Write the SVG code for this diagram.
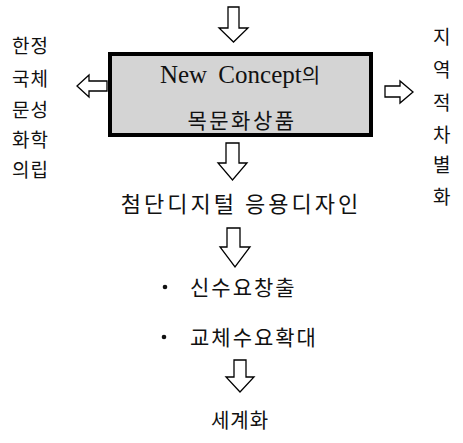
<svg xmlns="http://www.w3.org/2000/svg" width="463" height="443" viewBox="0 0 463 443">
<style>
.ar{fill:#fff;stroke:#000;stroke-width:1.3;stroke-linejoin:miter}
.k{font-family:"Noto Sans CJK KR","Noto Sans",sans-serif;fill:#111}
.t{font-size:21px}
.s{font-size:19px}
</style>
<rect width="463" height="443" fill="#fff"/>
<g id="connectors">
<path class="ar" d="M228,7 H239 V28 H248 L233.5,42 L219,28 H228 Z"/>
<path class="ar" d="M226,143 H239 V163 H247 L232.5,180 L218,163 H226 Z"/>
<path class="ar" d="M227,228 H240 V247 H250 L235,267 L220,247 H227 Z"/>
<path class="ar" d="M234,360 H246 V377 H254 L240,392 L226,377 H234 Z"/>
<path class="ar" d="M107,81 V91 H89 V97 L77,86 L89,75 V81 Z"/>
<path class="ar" d="M385,86 H400 V81 L413,92 L400,103 V97 H385 Z"/>
</g>
<g id="main">
<rect x="110" y="54" width="261" height="81" fill="#d4d4d4" stroke="#000" stroke-width="4"/>
<text x="240" y="83" text-anchor="middle" font-family="Liberation Serif,serif" font-size="25" word-spacing="5" fill="#111">New Concept<tspan class="k" font-size="20">의</tspan></text>
<text class="k" x="242" y="128" text-anchor="middle" font-size="21" letter-spacing="2.5">목문화상품</text>
</g>
<g id="left">
<text class="k s" x="12" y="53" letter-spacing="1">한정</text>
<text class="k s" x="12" y="86" letter-spacing="1">국체</text>
<text class="k s" x="12" y="117" letter-spacing="1">문성</text>
<text class="k s" x="12" y="147" letter-spacing="1">화학</text>
<text class="k s" x="12" y="177" letter-spacing="1">의립</text>
</g>
<g id="right">
<text class="k s" x="433" y="44">지</text>
<text class="k s" x="433" y="77">역</text>
<text class="k s" x="433" y="110">적</text>
<text class="k s" x="433" y="142">차</text>
<text class="k s" x="433" y="172">별</text>
<text class="k s" x="433" y="204">화</text>
</g>
<g id="n1"><text class="k" font-size="22" x="241" y="212" text-anchor="middle" letter-spacing="3">첨단디지털 응용디자인</text></g>
<g id="n2">
<circle cx="165" cy="287" r="2.3" fill="#111"/>
<text class="k t" x="190" y="295" letter-spacing="2">신수요창출</text>
<circle cx="164" cy="337" r="2.3" fill="#111"/>
<text class="k t" x="190" y="345" letter-spacing="2">교체수요확대</text>
</g>
<g id="n3"><text class="k" font-size="20" x="240" y="428" text-anchor="middle" letter-spacing="1">세계화</text></g>
</svg>
